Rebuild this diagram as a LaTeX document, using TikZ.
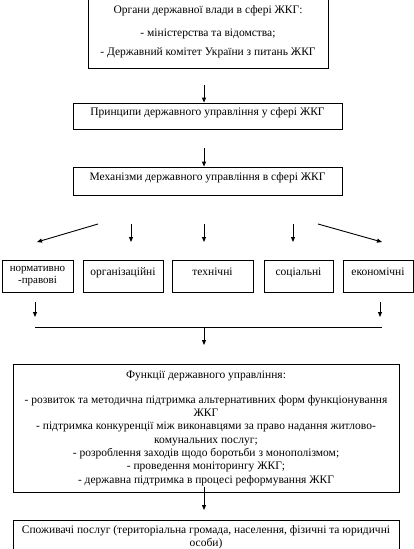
\documentclass[tikz,border=0pt]{standalone}
\usepackage{fontspec}
\setmainfont{Liberation Serif}
\usetikzlibrary{arrows.meta,positioning,calc}

\begin{document}
\begin{tikzpicture}[x=1pt,y=-1pt,
    box/.style={draw,line width=0.9pt,align=center,inner sep=2pt,
      font=\fontsize{11.5}{13.3}\selectfont},
    lift/.style={text height=8pt,text depth=9pt},
    arr/.style={-{Triangle[length=5pt,width=4pt]},line width=0.9pt}]
  \useasboundingbox (0,0) rectangle (414,549);
  % row-box helper: name, x, width, text
  \newcommand{\vidbox}[4]{%
    \node[box,lift,minimum width=#3,minimum height=32pt] (#1) at (#2,276) {#4};}
  % authorities
  \node[box,minimum width=240pt,minimum height=73pt] (organy) at (208,31.5)
    {Органи державної влади в сфері ЖКГ:\\[10pt]
     - міністерства та відомства;\\[5pt]
     - Державний комітет України з питань ЖКГ};
  \node[box,lift,minimum width=269pt,minimum height=26pt] (pryntsypy) at (207.5,116)
    {Принципи державного управління у сфері ЖКГ};
  \node[box,lift,minimum width=269pt,minimum height=28pt] (mekhanizmy) at (207.5,181)
    {Механізми державного управління в сфері ЖКГ};
  \coordinate (a1) at (204,85);
  \coordinate (a2) at (204,148);
  \draw[arr] (a1) -- (a1 |- pryntsypy.north);
  \draw[arr] (a2) -- (a2 |- mekhanizmy.north);
  % kinds of mechanisms
  \node[box,minimum width=71pt,minimum height=32pt,font=\fontsize{11}{12.5}\selectfont]
    (normprav) at (37.5,276) {нормативно\\-правові};
  \vidbox{orgz}{123}{80pt}{організаційні}
  \vidbox{tekhn}{212.5}{81pt}{технічні}
  \vidbox{sots}{298.5}{69pt}{соціальні}
  \vidbox{ekon}{378}{70pt}{економічні}
  \foreach \i/\xa/\xb in {1/98/37,2/131/131,3/204/204,4/293/293,5/318/382}{
    \coordinate (m\i) at (\xa,224);
    \coordinate (v\i) at (\xb,242);
    \draw[arr] (m\i) -- (v\i);}
  % gathering line
  \coordinate (z1) at (35,302);  \coordinate (n1) at (35,317);
  \coordinate (z2) at (380,302); \coordinate (n2) at (380,317);
  \coordinate (h1) at (35,327);  \coordinate (h2) at (382,327);
  \coordinate (h3) at (204,327); \coordinate (h4) at (204,345);
  \draw[arr] (z1) -- (n1);
  \draw[arr] (z2) -- (n2);
  \draw[line width=0.9pt] (h1) -- (h2);
  \draw[arr] (h3) -- (h4);
  % functions
  \node[box,minimum width=386pt,minimum height=128pt] (funktsii) at (206,428)
    {Функції державного управління:\\[12pt]
     - розвиток та методична підтримка альтернативних  форм функціонування\\
     ЖКГ\\
     - підтримка конкуренції  між виконавцями  за право надання житлово-\\
     комунальних послуг;\\
     - розроблення заходів щодо боротьби з монополізмом;\\
     - проведення моніторингу ЖКГ;\\
     - державна підтримка в процесі реформування ЖКГ};
  % consumers
  \node[box,minimum width=386pt,minimum height=34pt,anchor=north] (spozhyvachi) at (206,520)
    {Споживачі послуг (територіальна громада, населення, фізичні та юридичні\\особи)};
  \coordinate (f1) at (204,487);
  \coordinate (f2) at (204,510);
  \draw[arr] (f1) -- (f2);
\end{tikzpicture}
\end{document}
